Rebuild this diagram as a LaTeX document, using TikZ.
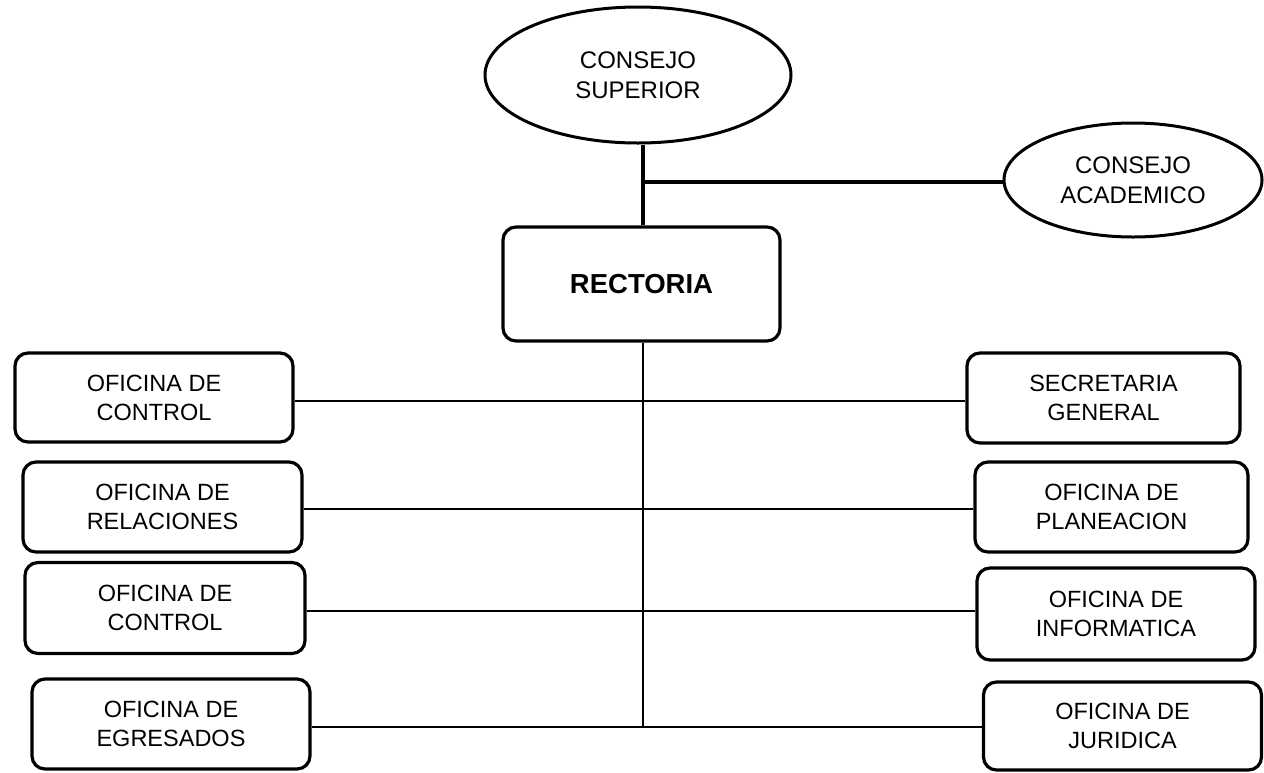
\documentclass[tikz,border=0pt]{standalone}
\usepackage{fontspec}
\setmainfont{Liberation Sans}
\usetikzlibrary{shapes.geometric}
\tikzset{
  unit/.style={draw=black, line width=3.2pt, rounded corners=13pt, align=center,
    inner sep=0pt, font=\fontsize{23.5}{29}\selectfont},
  council/.style={draw=black, line width=3pt, ellipse, align=center,
    inner sep=0pt, font=\fontsize{24}{30}\selectfont},
  heavy/.style={line width=4.5pt},
  medium/.style={line width=2.8pt},
  light/.style={line width=1.8pt},
}
\begin{document}
\begin{tikzpicture}[x=1pt,y=-1pt]
\useasboundingbox (0,0) rectangle (1264,772);
% councils
\node[council, minimum width=306pt, minimum height=136pt] (cs) at (638,75) {CONSEJO\\SUPERIOR};
\node[council, minimum width=258pt, minimum height=114pt] (ca) at (1133,180) {CONSEJO\\ACADEMICO};
% rectoria
\node[unit, minimum width=277pt, minimum height=114pt, font=\fontsize{27.5}{30}\selectfont\bfseries] (rect) at (641.5,284) {RECTORIA};
% left units
\node[unit, minimum width=278pt, minimum height=89pt] (l1) at (154,397.5) {OFICINA DE\\CONTROL};
\node[unit, minimum width=279pt, minimum height=90pt] (l2) at (162.5,507) {OFICINA DE\\RELACIONES};
\node[unit, minimum width=280pt, minimum height=91pt] (l3) at (165,608) {OFICINA DE\\CONTROL};
\node[unit, minimum width=278pt, minimum height=90pt] (l4) at (171,724) {OFICINA DE\\EGRESADOS};
% right units
\node[unit, minimum width=273pt, minimum height=90pt] (r1) at (1103.5,398) {SECRETARIA\\GENERAL};
\node[unit, minimum width=273pt, minimum height=90pt] (r2) at (1111.5,507) {OFICINA DE\\PLANEACION};
\node[unit, minimum width=278pt, minimum height=92pt] (r3) at (1116,614) {OFICINA DE\\INFORMATICA};
\node[unit, minimum width=278pt, minimum height=88pt] (r4) at (1122.5,726) {OFICINA DE\\JURIDICA};
% spine coordinates
\coordinate (j) at (643,182);
\coordinate (s1) at (643,401);
\coordinate (s2) at (643,509);
\coordinate (s3) at (643,611);
\coordinate (s4) at (643,727);
% connectors
\draw[heavy] (cs.south -| j) -- (rect.north -| j);
\draw[heavy] (j) -- (ca.west |- j);
\draw[medium] (rect.south -| s4) -- (s4);
\draw[light] (l1.east |- s1) -- (r1.west |- s1);
\draw[light] (l2.east |- s2) -- (r2.west |- s2);
\draw[light] (l3.east |- s3) -- (r3.west |- s3);
\draw[light] (l4.east |- s4) -- (r4.west |- s4);
\end{tikzpicture}
\end{document}
